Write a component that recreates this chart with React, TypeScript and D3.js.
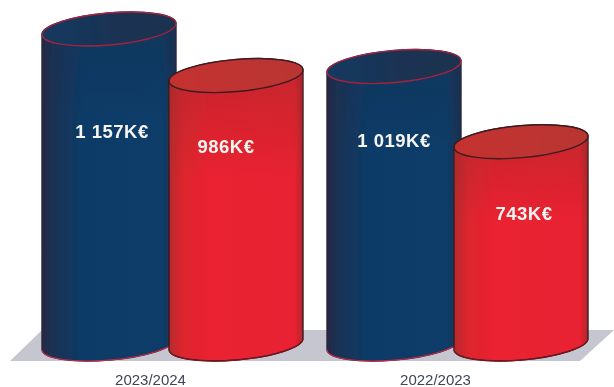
import React, { FC } from 'react';
import * as d3 from 'd3';

const seasons: string[] = ['2023/2024', '2022/2023'];
const seriesNames: string[] = ['blue', 'red'];
const blueValues: number[] = [1157, 1019];
const redValues: number[] = [986, 743];
const blueLabels: string[] = ['1 157K€', '1 019K€'];
const redLabels: string[] = ['986K€', '743K€'];

const width = 614;
const height = 387;
const barWidth = 134;
const baseY = 344;
const topY = 29;

/* Tilted ellipse that closes each cylinder */
const rx = 67.2;
const ry = 16;
const tilt = -5;
const endDx = 67;
const endDy = 5.5;

/* Label placement, measured down from the top of the cylinder */
const labelDrop: { [key: string]: number[] } = { blue: [102, 74], red: [71, 72] };
const labelShift: { [key: string]: number[] } = { blue: [3, 0], red: [-10, 3] };

const x0 = d3.scalePoint<string>().domain(seasons).range([42, 327]);
const x1 = d3.scalePoint<string>().domain(seriesNames).range([0, 127]);
const y = d3.scaleLinear().domain([0, 1157]).range([baseY, topY]);

const palette: { [key: string]: { [key: string]: string } } = {
  blue: { stroke: '#27263f', rim: '#a5233f', foot: '#c22c4a' },
  red: { stroke: '#3b1c22', rim: '#3b1c22', foot: '#7a1420' },
};

type CylinderProps = {
  series: string;
  left: number;
  value: number;
  label: string;
  drop: number;
  shift: number;
};

const Cylinder: FC<CylinderProps> = ({ series, left, value, label, drop, shift }: CylinderProps) => {
  const cx = left + barWidth / 2;
  const cy = y(value);
  const c = palette[series];
  const arc = `A${rx} ${ry} ${tilt} 0 0`;
  const side =
    `M${cx - endDx} ${cy + endDy}` +
    `L${cx - endDx} ${baseY + endDy}` +
    `${arc} ${cx + endDx} ${baseY - endDy}` +
    `L${cx + endDx} ${cy - endDy}` +
    `${arc} ${cx - endDx} ${cy + endDy}Z`;
  const foot = `M${cx - endDx} ${baseY + endDy}${arc} ${cx + endDx} ${baseY - endDy}`;
  return (
    <g>
      <path d={side} fill={`url(#body-${series})`} stroke={c.stroke} strokeWidth={1.4} />
      <path d={side} fill={`url(#shade-${series})`} />
      <path d={foot} fill="none" stroke={c.foot} strokeWidth={1.2} />
      <ellipse
        cx={cx}
        cy={cy}
        rx={rx}
        ry={ry}
        transform={`rotate(${tilt} ${cx} ${cy})`}
        fill={`url(#cap-${series})`}
        stroke={c.rim}
        strokeWidth={1.4}
      />
      <text
        x={cx + shift}
        y={cy + drop}
        dy="0.36em"
        textAnchor="middle"
        fill="#f6f4f0"
        fontSize={18.5}
        fontWeight="bold"
        letterSpacing={0.5}
      >
        {label}
      </text>
    </g>
  );
};

const App: FC = () => {
  return (
    <svg
      width={width}
      height={height}
      viewBox={`0 0 ${width} ${height}`}
      style={{ position: 'absolute', left: 0, top: 0, background: '#fff' }}
      fontFamily="'Liberation Sans', Arial, sans-serif"
    >
      <defs>
        {/* the reference is a scan, everything is a little soft */}
        <filter id="soft" x="0" y="0" width="1" height="1">
          <feGaussianBlur stdDeviation={0.45} />
        </filter>
        <linearGradient id="body-blue" x1="0" x2="1" y1="0" y2="0">
          <stop offset="0" stopColor="#262845" />
          <stop offset="0.08" stopColor="#1b3254" />
          <stop offset="0.3" stopColor="#0d3b67" />
          <stop offset="0.9" stopColor="#0e3c67" />
          <stop offset="1" stopColor="#1b3050" />
        </linearGradient>
        <linearGradient id="body-red" x1="0" x2="1" y1="0" y2="0">
          <stop offset="0" stopColor="#b52b2d" />
          <stop offset="0.1" stopColor="#dc262e" />
          <stop offset="0.3" stopColor="#ea2230" />
          <stop offset="0.94" stopColor="#e82330" />
          <stop offset="1" stopColor="#b0262c" />
        </linearGradient>
        <linearGradient id="shade-blue" x1="0" x2="0" y1="0" y2="1">
          <stop offset="0" stopColor="#1c2c48" stopOpacity={0.35} />
          <stop offset="0.3" stopColor="#1c2c48" stopOpacity={0} />
        </linearGradient>
        <linearGradient id="shade-red" x1="0" x2="0" y1="0" y2="1">
          <stop offset="0" stopColor="#8c2a2a" stopOpacity={0.4} />
          <stop offset="0.4" stopColor="#8c2a2a" stopOpacity={0} />
        </linearGradient>
        <linearGradient id="cap-blue" x1="0" x2="1" y1="0" y2="0">
          <stop offset="0" stopColor="#123a60" />
          <stop offset="0.6" stopColor="#1c3252" />
          <stop offset="1" stopColor="#1b3050" />
        </linearGradient>
        <linearGradient id="cap-red" x1="0" x2="1" y1="0" y2="0">
          <stop offset="0" stopColor="#c4332f" />
          <stop offset="1" stopColor="#b93431" />
        </linearGradient>
      </defs>

      <g filter="url(#soft)">
        {/* floor */}
        <path d="M10 361L42 330L614 330L580 361Z" fill="#c6c6d1" />

        {seasons.map((season, i) => (
          <g key={season}>
            <Cylinder
              series="blue"
              left={(x0(season) as number) + (x1('blue') as number)}
              value={blueValues[i]}
              label={blueLabels[i]}
              drop={labelDrop.blue[i]}
              shift={labelShift.blue[i]}
            />
            <Cylinder
              series="red"
              left={(x0(season) as number) + (x1('red') as number)}
              value={redValues[i]}
              label={redLabels[i]}
              drop={labelDrop.red[i]}
              shift={labelShift.red[i]}
            />
            <text
              x={(x0(season) as number) + 108.5}
              y={385}
              textAnchor="middle"
              fill="#3d4658"
              fontSize={15}
            >
              {season}
            </text>
          </g>
        ))}
      </g>
    </svg>
  );
};

export default App;
